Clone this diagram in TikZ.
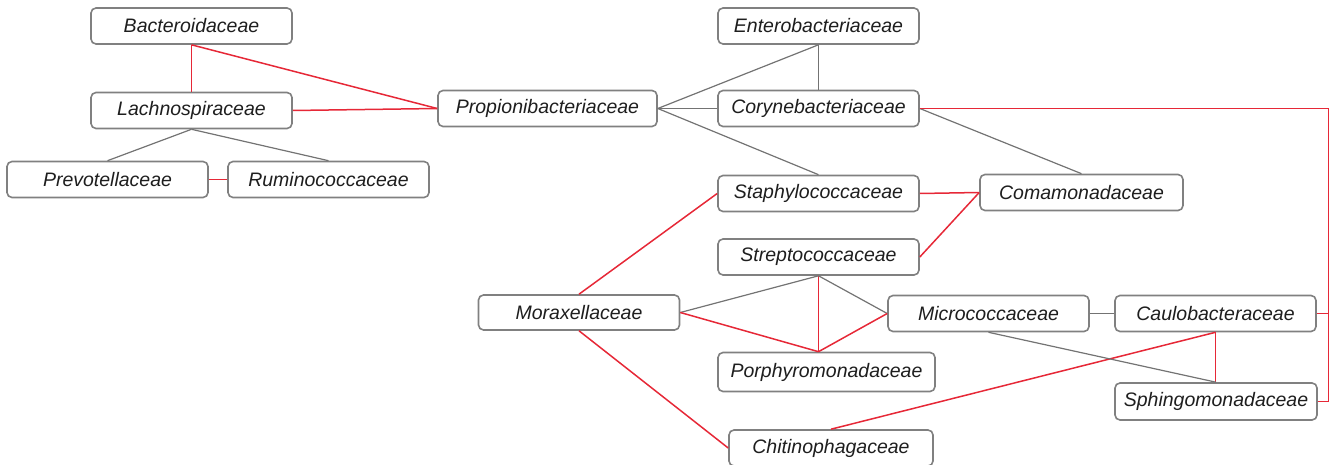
\documentclass[tikz,border=0pt]{standalone}
\usepackage{fontspec}
\setmainfont{Liberation Sans}
\definecolor{boxgray}{RGB}{128,128,128}
\definecolor{linkred}{RGB}{230,40,55}
\definecolor{linkgray}{RGB}{115,115,115}
\definecolor{textgray}{RGB}{30,30,30}
\begin{document}
\begin{tikzpicture}[x=1bp,y=-1bp,
  fam/.style={draw=boxgray, line width=1.6bp, rounded corners=5bp, fill=white,
    minimum width=201bp, minimum height=36bp, inner sep=0pt,
    font=\fontsize{19.5bp}{22bp}\selectfont\itshape, text=textgray},
  rl/.style={draw=linkred, line width=1.5bp},
  gl/.style={draw=linkgray, line width=1.2bp}]
\useasboundingbox (0,0) rectangle (1332,465);
% nodes
\node[fam] (bac) at (191.5,26) {Bacteroidaceae};
\node[fam] (lac) at (191.5,110.5) {Lachnospiraceae};
\node[fam] (pre) at (107.5,179.5) {Prevotellaceae};
\node[fam] (rum) at (328.5,179.5) {Ruminococcaceae};
\node[fam, minimum width=219bp] (pro) at (547.5,108.5) {Propionibacteriaceae};
\node[fam] (ent) at (818.5,26) {Enterobacteriaceae};
\node[fam] (cor) at (818.5,108.5) {Corynebacteriaceae};
\node[fam] (sta) at (818.5,193.5) {Staphylococcaceae};
\node[fam, minimum width=203bp] (com) at (1081.5,192.5) {Comamonadaceae};
\node[fam] (str) at (818.5,257) {Streptococcaceae};
\node[fam, minimum height=35bp] (mor) at (579,312.5) {Moraxellaceae};
\node[fam] (mic) at (988.5,313.5) {Micrococcaceae};
\node[fam] (cau) at (1215.5,313.5) {Caulobacteraceae};
\node[fam, minimum width=217bp, minimum height=39bp] (por) at (826.5,372) {Porphyromonadaceae};
\node[fam, minimum width=202bp, minimum height=37bp] (sph) at (1216,401.5) {Sphingomonadaceae};
\node[fam, minimum width=204bp] (chi) at (831,448) {Chitinophagaceae};
\coordinate (rb) at (1328.5,0);
% connectors
\draw[rl] (bac.south) -- (lac.north);
\draw[rl] (bac.south) -- (pro.west);
\draw[rl] (lac.east) -- (pro.west);
\draw[gl] (lac.south) -- (pre.north);
\draw[gl] (lac.south) -- (rum.north);
\draw[rl] (pre.east) -- (rum.west);
\draw[gl] (pro.east) -- (ent.south);
\draw[gl] (pro.east) -- (cor.west);
\draw[gl] (pro.east) -- (sta.north);
\draw[gl] (ent.south) -- (cor.north);
\draw[gl] (cor.east) -- (com.north);
\draw[rl] (cor.east) -- (cor.east -| rb) |- (sph.east);
\draw[rl] (cau.east) -- (cau.east -| rb);
\draw[rl] (sta.east) -- (com.west);
\draw[rl] (str.east) -- (com.west);
\draw[rl] (mor.north) -- (sta.west);
\draw[gl] (mor.east) -- (str.south);
\draw[rl] (mor.east) -- (por.north -| str.south);
\draw[rl] (str.south) -- (por.north -| str.south);
\draw[gl] (str.south) -- (mic.west);
\draw[rl] (mic.west) -- (por.north -| str.south);
\draw[rl] (mor.south) -- (chi.west);
\draw[rl] (chi.north) -- (cau.south);
\draw[rl] (cau.south) -- (sph.north -| cau.south);
\draw[gl] (mic.south) -- (sph.north);
\draw[gl] (mic.east) -- (cau.west);
\end{tikzpicture}
\end{document}
